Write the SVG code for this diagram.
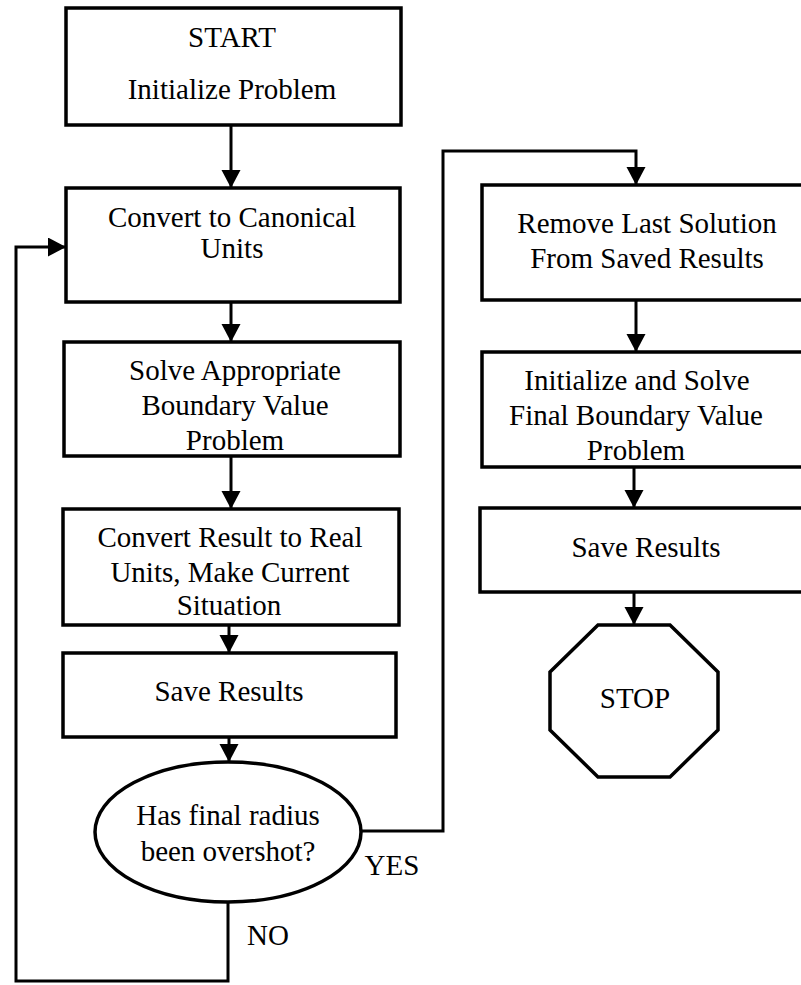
<svg xmlns="http://www.w3.org/2000/svg" width="801" height="985" viewBox="0 0 801 985">
<style>
.box{fill:#fff;stroke:#000;stroke-width:3.5}
.ln{fill:none;stroke:#000;stroke-width:3}
.t{font-family:"Liberation Serif","Times New Roman",serif;font-size:29px;fill:#000;text-anchor:middle}
</style>
<defs>
<marker id="ah" markerUnits="userSpaceOnUse" markerWidth="20" markerHeight="20" refX="18" refY="9.5" orient="auto">
<path d="M0,0 L18,9.5 L0,19 z" fill="#000"/>
</marker>
</defs>
<rect width="801" height="985" fill="#fff"/>
<g id="connectors">
<line class="ln" x1="231" y1="125" x2="231" y2="188" marker-end="url(#ah)"/>
<line class="ln" x1="231" y1="302" x2="231" y2="342" marker-end="url(#ah)"/>
<line class="ln" x1="231" y1="456" x2="231" y2="509" marker-end="url(#ah)"/>
<line class="ln" x1="229" y1="625" x2="229" y2="653" marker-end="url(#ah)"/>
<line class="ln" x1="229" y1="737" x2="229" y2="762" marker-end="url(#ah)"/>
<polyline class="ln" points="228,903 228,981 16,981 16,247 66,247" marker-end="url(#ah)"/>
<polyline class="ln" points="362,831 443,831 443,151 636,151 636,185" marker-end="url(#ah)"/>
<line class="ln" x1="636" y1="300" x2="636" y2="352" marker-end="url(#ah)"/>
<line class="ln" x1="634" y1="467" x2="634" y2="508" marker-end="url(#ah)"/>
<line class="ln" x1="634" y1="592" x2="634" y2="625" marker-end="url(#ah)"/>
<text class="t" x="392" y="875">YES</text>
<text class="t" x="268" y="945">NO</text>
</g>
<g id="start">
<rect class="box" x="66" y="8" width="335" height="117"/>
<text class="t" x="232" y="47">START</text>
<text class="t" x="232" y="99">Initialize Problem</text>
</g>
<g id="canonical">
<rect class="box" x="66" y="188" width="334" height="114"/>
<text class="t" x="232" y="227">Convert to Canonical</text>
<text class="t" x="232" y="258">Units</text>
</g>
<g id="solve">
<rect class="box" x="64" y="342" width="336" height="114"/>
<text class="t" x="235" y="380">Solve Appropriate</text>
<text class="t" x="235" y="415">Boundary Value</text>
<text class="t" x="235" y="450">Problem</text>
</g>
<g id="convert-result">
<rect class="box" x="63" y="509" width="336" height="116"/>
<text class="t" x="230" y="547">Convert Result to Real</text>
<text class="t" x="230" y="582">Units, Make Current</text>
<text class="t" x="229" y="615">Situation</text>
</g>
<g id="save1">
<rect class="box" x="63" y="653" width="333" height="84"/>
<text class="t" x="229" y="701">Save Results</text>
</g>
<g id="decision">
<ellipse class="box" cx="228" cy="832" rx="133" ry="70"/>
<text class="t" x="228" y="825">Has final radius</text>
<text class="t" x="228" y="861">been overshot?</text>
</g>
<g id="remove">
<rect class="box" x="482" y="185" width="335" height="115"/>
<text class="t" x="647" y="233">Remove Last Solution</text>
<text class="t" x="647" y="268">From Saved Results</text>
</g>
<g id="final-bvp">
<rect class="box" x="482" y="352" width="335" height="115"/>
<text class="t" x="637" y="390">Initialize and Solve</text>
<text class="t" x="636" y="425">Final Boundary Value</text>
<text class="t" x="636" y="460">Problem</text>
</g>
<g id="save2">
<rect class="box" x="480" y="508" width="337" height="84"/>
<text class="t" x="646" y="557">Save Results</text>
</g>
<g id="stop">
<polygon class="box" points="598,625 670,625 718,672 718,730 670,777 598,777 550,730 550,672"/>
<text class="t" x="635" y="708">STOP</text>
</g>
</svg>
